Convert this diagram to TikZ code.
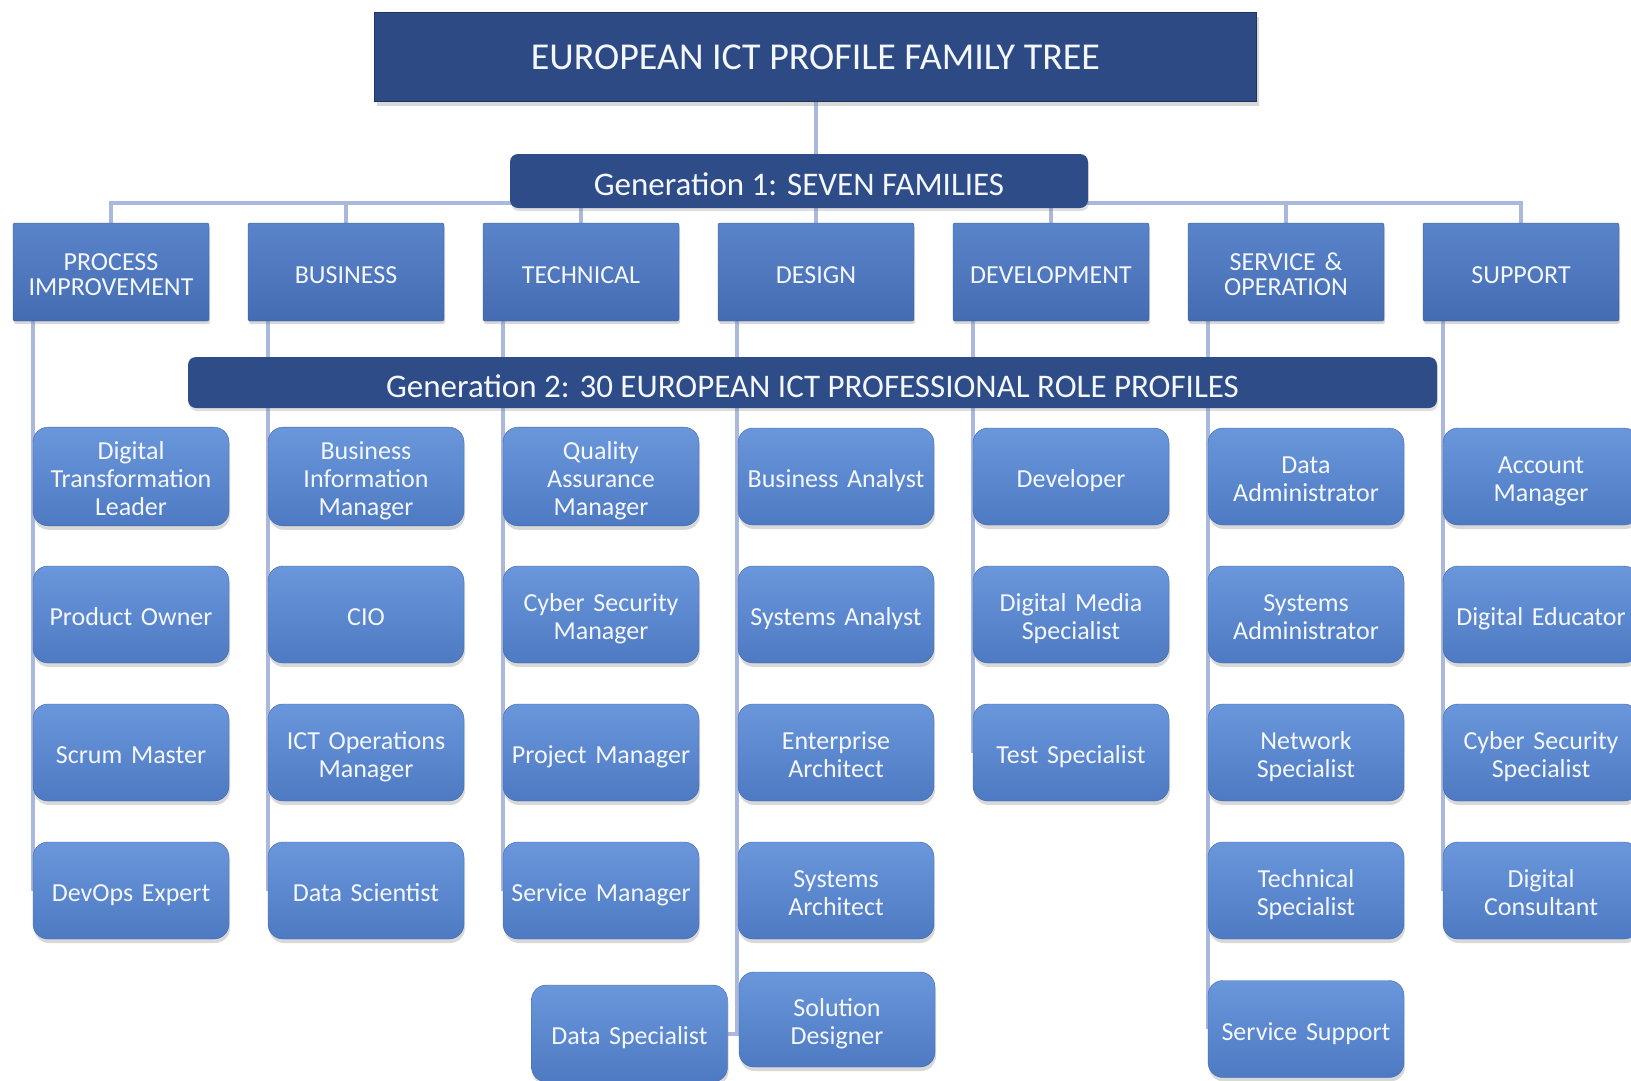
\documentclass[tikz,border=0pt]{standalone}
\usepackage{fontspec}
\setmainfont{Carlito}
\usetikzlibrary{shadows,backgrounds}
\definecolor{azulescuro}{HTML}{2D4A84}
\definecolor{azulbarra}{HTML}{2E4C88}
\definecolor{azulfam}{HTML}{446CB3}
\definecolor{azulfamtopo}{HTML}{5A84CA}
\definecolor{azulfunc}{HTML}{4E7AC3}
\definecolor{azulfunctopo}{HTML}{6A96DB}
\definecolor{azullinha}{HTML}{A9B8DC}
\definecolor{textoclaro}{HTML}{F4F7FC}
\begin{document}
\begin{tikzpicture}[x=1pt, y=-1pt,
    titulo/.style={draw=azulescuro!70!black, fill=azulescuro, text=textoclaro,
      minimum width=882pt, minimum height=89pt, font=\fontsize{38}{40}\selectfont,
      drop shadow={shadow xshift=2pt, shadow yshift=-4pt, opacity=0.3}},
    geracao/.style={fill=azulbarra, text=textoclaro, rounded corners=8pt, inner ysep=0pt,
      font=\fontsize{33}{35}\selectfont,
      execute at begin node={\rule{0pt}{37pt}}, execute at end node={\rule[-8pt]{0pt}{8pt}},
      drop shadow={shadow xshift=1pt, shadow yshift=-3pt, opacity=0.25}},
    familia/.style={draw=azulfam!80!black, top color=azulfamtopo, bottom color=azulfam,
      text=textoclaro, rounded corners=2pt, minimum width=196pt, minimum height=98pt,
      inner xsep=3pt, text width=190pt, align=center, font=\fontsize{26}{25}\selectfont,
      execute at begin node={\rule{0pt}{29pt}}, execute at end node={\rule[-7pt]{0pt}{7pt}},
      drop shadow={shadow xshift=1pt, shadow yshift=-3pt, opacity=0.3}},
    funcao/.style={draw=azulfunc!85!black, top color=azulfunctopo, bottom color=azulfunc,
      text=textoclaro, rounded corners=15pt, minimum width=196pt, minimum height=97pt,
      inner xsep=3pt, text width=190pt, align=center, font=\fontsize{26}{28}\selectfont,
      execute at begin node={\rule{0pt}{29pt}}, execute at end node={\rule[-7pt]{0pt}{7pt}},
      drop shadow={shadow xshift=1pt, shadow yshift=-4pt, opacity=0.3}},
    linha/.style={azullinha, line width=4pt}]
  \useasboundingbox (0,0) rectangle (1631,1080);

  % topo
  \node[titulo] (titulo) at (815.5,57) {EUROPEAN ICT PROFILE FAMILY TREE};
  \node[geracao, minimum width=578pt, minimum height=54pt] (g1) at (799,181) {Generation 1: SEVEN FAMILIES};
  \coordinate (barra) at (0,203); % altura da linha das familias

  % familias
  \node[familia] (f1) at (111,272) {PROCESS\\IMPROVEMENT};
  \node[familia] (f2) at (346,272) {BUSINESS};
  \node[familia] (f3) at (581,272) {TECHNICAL};
  \node[familia] (f4) at (816,272) {DESIGN};
  \node[familia] (f5) at (1051,272) {DEVELOPMENT};
  \node[familia] (f6) at (1286,272) {SERVICE \&\\OPERATION};
  \node[familia] (f7) at (1521,272) {SUPPORT};

  \node[geracao, minimum width=1249pt, minimum height=51pt] (g2) at (812.5,382.5) {Generation 2: 30 EUROPEAN ICT PROFESSIONAL ROLE PROFILES};

  % process improvement
  \node[funcao] (pi1) at (131,476.5) {Digital\\Transformation\\Leader};
  \node[funcao] (pi2) at (131,614.5) {Product Owner};
  \node[funcao] (pi3) at (131,752.5) {Scrum Master};
  \node[funcao] (pi4) at (131,890.5) {DevOps Expert};
  % business
  \node[funcao] (bu1) at (366,476.5) {Business\\Information\\Manager};
  \node[funcao] (bu2) at (366,614.5) {CIO};
  \node[funcao] (bu3) at (366,752.5) {ICT Operations\\Manager};
  \node[funcao] (bu4) at (366,890.5) {Data Scientist};
  % technical
  \node[funcao] (te1) at (601,476.5) {Quality\\Assurance\\Manager};
  \node[funcao] (te2) at (601,614.5) {Cyber Security\\Manager};
  \node[funcao] (te3) at (601,752.5) {Project Manager};
  \node[funcao] (te4) at (601,890.5) {Service Manager};
  % design
  \node[funcao] (de1) at (836,476.5) {Business Analyst};
  \node[funcao] (de2) at (836,614.5) {Systems Analyst};
  \node[funcao] (de3) at (836,752.5) {Enterprise\\Architect};
  \node[funcao] (de4) at (836,890.5) {Systems\\Architect};
  \node[funcao, minimum height=95pt] (de5) at (837,1019.5) {Solution\\Designer};
  \node[funcao, minimum width=195pt] (ds) at (629.5,1033.5) {Data Specialist};
  % development
  \node[funcao] (dv1) at (1071,476.5) {Developer};
  \node[funcao] (dv2) at (1071,614.5) {Digital Media\\Specialist};
  \node[funcao] (dv3) at (1071,752.5) {Test Specialist};
  % service & operation
  \node[funcao] (so1) at (1306,476.5) {Data\\Administrator};
  \node[funcao] (so2) at (1306,614.5) {Systems\\Administrator};
  \node[funcao] (so3) at (1306,752.5) {Network\\Specialist};
  \node[funcao] (so4) at (1306,890.5) {Technical\\Specialist};
  \node[funcao] (so5) at (1306,1029) {Service Support};
  % support
  \node[funcao] (su1) at (1541,476.5) {Account\\Manager};
  \node[funcao] (su2) at (1541,614.5) {Digital Educator};
  \node[funcao] (su3) at (1541,752.5) {Cyber Security\\Specialist};
  \node[funcao] (su4) at (1541,890.5) {Digital\\Consultant};

  \begin{pgfonlayer}{background}
    \fill[white] (0,0) rectangle (1631,1080); % fundo
    \draw[linha] (titulo.south) -- (titulo.south |- g1.north); % titulo a geracao 1
    \draw[linha] (f1.north) -- (f1.north |- barra) -- (f7.north |- barra) -- (f7.north); % barra das familias
    \draw[linha] (f2.north) -- (f2.north |- barra);
    \draw[linha] (f3.north) -- (f3.north |- barra);
    \draw[linha] (f4.north) -- (f4.north |- barra);
    \draw[linha] (f5.north) -- (f5.north |- barra);
    \draw[linha] (f6.north) -- (f6.north |- barra);
    \draw[linha] (f1.south -| pi1.west) -- (pi4.west); % colunas
    \draw[linha] (f2.south -| bu1.west) -- (bu4.west);
    \draw[linha] (f3.south -| te1.west) -- (te4.west);
    \draw[linha] ([xshift=-1pt]f4.south -| de1.west) -- ([xshift=-1pt]ds.east -| de1.west) -- (ds.east);
    \draw[linha] (f5.south -| dv1.west) -- (dv3.west);
    \draw[linha] (f6.south -| so1.west) -- (so5.west);
    \draw[linha] (f7.south -| su1.west) -- (su4.west);
  \end{pgfonlayer}
\end{tikzpicture}
\end{document}
